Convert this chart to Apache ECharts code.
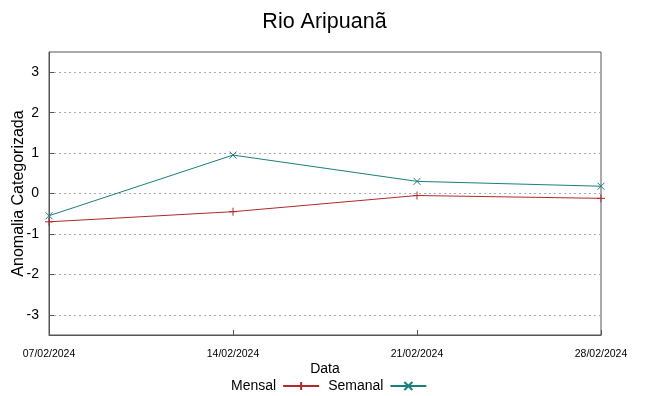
<!DOCTYPE html>
<html>
<head>
<meta charset="utf-8">
<script src="https://cdn.jsdelivr.net/npm/echarts@6/dist/echarts.min.js"></script>
<style>html,body{margin:0;padding:0;background:#fff}#c{width:649px;height:396px}</style>
</head>
<body>
<div id="c"></div>
<script>
const categories = ['07/02/2024', '14/02/2024', '21/02/2024', '28/02/2024'];
const mensal = [-0.7, -0.45, -0.05, -0.12];
const semanal = [-0.55, 0.95, 0.3, 0.18];
const yTicks = [-3, -2, -1, 0, 1, 2, 3];

const plusPath = 'path://M0,-1L0,1M-1,0L1,0';
const crossPath = 'path://M-1,-1L1,1M-1,1L1,-1';
const font = 'Liberation Sans, Arial, sans-serif';

const chart = echarts.init(document.getElementById('c'), null, {renderer: 'canvas'});
chart.setOption({
  animation: false,
  backgroundColor: '#fff',
  textStyle: {fontFamily: font},
  title: {
    text: 'Rio Aripuanã', left: 'center', top: 6,
    textStyle: {fontSize: 21.5, fontWeight: 'normal', color: '#000', fontFamily: font}
  },
  grid: {left: 49, right: 48, top: 52, bottom: 61, containLabel: false, outerBoundsMode: 'none',
    show: true, borderColor: '#555', borderWidth: 1, backgroundColor: 'transparent'},
  legend: {
    top: 374, left: 226, align: 'right', itemWidth: 36, itemHeight: 10, itemGap: 8,
    textStyle: {fontSize: 14, color: '#000', fontFamily: font, padding: [0, 2, 0, 0]},
    data: ['Mensal', 'Semanal']
  },
  xAxis: {
    type: 'category', data: categories, boundaryGap: false,
    name: 'Data', nameLocation: 'middle', nameGap: 27, nameMoveOverlap: false,
    nameTextStyle: {fontSize: 14, color: '#000', fontFamily: font},
    axisLine: {show: true, onZero: false, lineStyle: {color: '#555'}},
    axisTick: {show: true, inside: true, length: 5, lineStyle: {color: '#555'}},
    axisLabel: {fontSize: 10.5, color: '#000', margin: 14, fontFamily: font},
    splitLine: {show: false}
  },
  yAxis: {
    type: 'value', min: -3.5, max: 3.5,
    name: 'Anomalia Categorizada', nameLocation: 'middle', nameGap: 22, nameMoveOverlap: false,
    nameTextStyle: {fontSize: 16, color: '#000', fontFamily: font},
    axisLine: {show: true, lineStyle: {color: '#555'}},
    axisTick: {show: true, inside: true, length: 5, lineStyle: {color: '#555'}, customValues: yTicks},
    axisLabel: {fontSize: 14, color: '#000', margin: 10, fontFamily: font, customValues: yTicks},
    splitLine: {show: true, lineStyle: {color: '#aaa', type: [2, 3], width: 1}},
    interval: 1
  },
  series: [
    {
      name: 'Mensal', type: 'line', data: mensal,
      symbol: plusPath, symbolSize: 8, showSymbol: true,
      lineStyle: {color: '#b02a2a', width: 1},
      itemStyle: {color: '#b02a2a', borderColor: '#b02a2a', borderWidth: 1}
    },
    {
      name: 'Semanal', type: 'line', data: semanal,
      symbol: crossPath, symbolSize: 7, showSymbol: true,
      lineStyle: {color: '#1a7f7f', width: 1},
      itemStyle: {color: '#1a7f7f', borderColor: '#1a7f7f', borderWidth: 1}
    }
  ]
});
</script>
</body>
</html>
